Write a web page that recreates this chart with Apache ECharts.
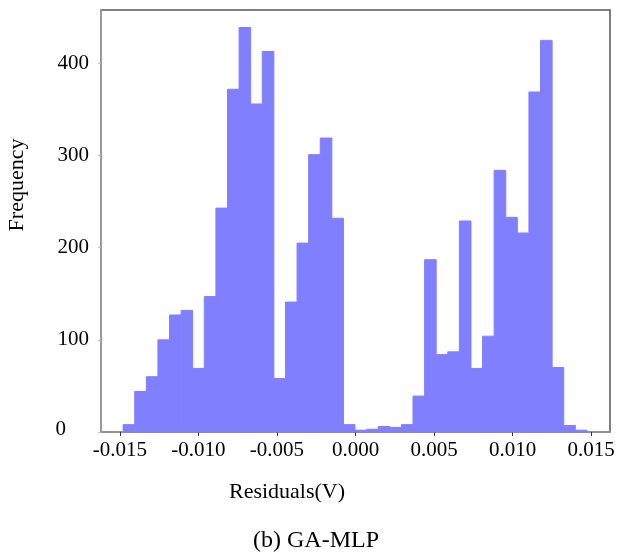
<!DOCTYPE html>
<html>
<head>
<meta charset="utf-8">
<script src="https://cdn.jsdelivr.net/npm/echarts@6/dist/echarts.min.js"></script>
<style>
	html, body { margin: 0; padding: 0; background: #fff; }
	#chart { width: 630px; height: 557px; }
</style>
</head>
<body>
<div id="chart"></div>
<script>
const binStart = -0.01479;
const binWidth = 0.000738;
const counts = [
	8, 44, 60, 100, 127, 132, 69, 147, 243, 372,
	439, 356, 413, 58, 141, 205, 301, 319, 232, 8,
	2, 3, 6, 5, 8, 39, 187, 84, 87, 229,
	69, 104, 284, 233, 216, 369, 425, 70, 7, 2
];
const xTicks = [-0.015, -0.010, -0.005, 0.000, 0.005, 0.010, 0.015];
const yTicks = [0, 100, 200, 300, 400];

const bins = counts.map((c, i) => [binStart + i * binWidth, binStart + (i + 1) * binWidth, c]);

const font = '"Liberation Serif", "Times New Roman", serif';

const chart = echarts.init(document.getElementById('chart'));

chart.setOption({
	animation: false,
	grid: {
		left: 101,
		right: 20,
		top: 10,
		bottom: 125,
		show: true,
		borderColor: '#555',
		borderWidth: 1.5,
	},
	xAxis: {
		type: 'value',
		min: -0.0162,
		max: 0.0162,
		axisLine: { show: true, onZero: false, lineStyle: { color: '#999', width: 1.5 } },
		axisTick: {
			show: true,
			customValues: xTicks,
			length: 4,
			lineStyle: { color: '#333' },
		},
		axisLabel: {
			customValues: xTicks,
			formatter: (v) => v.toFixed(3),
			fontFamily: font,
			fontSize: 21,
			color: '#000',
			margin: 8,
		},
		splitLine: { show: false },
	},
	yAxis: {
		type: 'value',
		min: 0,
		max: 458,
		axisLine: { show: true, onZero: false, lineStyle: { color: '#999', width: 2 } },
		axisTick: {
			show: true,
			customValues: yTicks,
			length: 3,
			lineStyle: { color: '#bbb' },
		},
		axisLabel: {
			customValues: yTicks,
			formatter: (v) => (v === 0 ? '{z|0}' : String(v)),
			fontFamily: font,
			fontSize: 21,
			color: '#000',
			margin: 12,
			rich: {
				z: { fontFamily: font, fontSize: 21, color: '#000', padding: [0, 23, 6, 0] },
			},
		},
		splitLine: { show: false },
	},
	series: [
		{
			type: 'custom',
			data: bins,
			encode: { x: [0, 1], y: 2 },
			renderItem: (params, api) => {
				const p0 = api.coord([api.value(0), api.value(2)]);
				const p1 = api.coord([api.value(1), 0]);
				return {
					type: 'rect',
					shape: { x: p0[0], y: p0[1], width: p1[0] - p0[0], height: p1[1] - p0[1] },
					style: { fill: '#8080ff', stroke: '#8080ff', lineWidth: 1 },
				};
			},
		},
	],
	graphic: [
		{
			type: 'text',
			x: 17,
			y: 185,
			rotation: Math.PI / 2,
			style: {
				text: 'Frequency',
				font: '22px ' + font,
				fill: '#000',
				textAlign: 'center',
				textVerticalAlign: 'middle',
			},
		},
		{
			type: 'text',
			x: 287,
			y: 492,
			style: {
				text: 'Residuals(V)',
				font: '22px ' + font,
				fill: '#000',
				textAlign: 'center',
				textVerticalAlign: 'middle',
			},
		},
		{
			type: 'text',
			x: 316,
			y: 541,
			style: {
				text: '(b) GA-MLP',
				font: '24px ' + font,
				fill: '#000',
				textAlign: 'center',
				textVerticalAlign: 'middle',
			},
		},
	],
});
</script>
</body>
</html>
